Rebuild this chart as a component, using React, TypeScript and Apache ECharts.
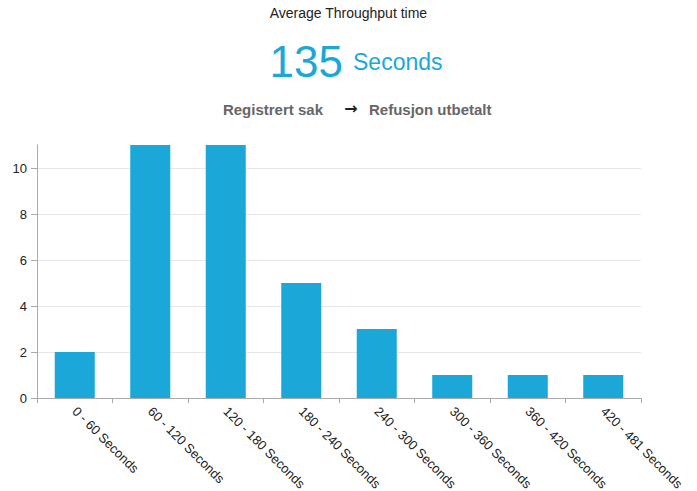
import React, { useEffect, useRef } from "react";
import * as echarts from "echarts";

const categories = [
  "0 - 60 Seconds",
  "60 - 120 Seconds",
  "120 - 180 Seconds",
  "180 - 240 Seconds",
  "240 - 300 Seconds",
  "300 - 360 Seconds",
  "360 - 420 Seconds",
  "420 - 481 Seconds",
];
const counts = [2, 11, 11, 5, 3, 1, 1, 1];
const titleText = "Average Throughput time";
const averageValue = "135";
const averageUnit = "Seconds";
const fromStep = "Registrert sak";
const toStep = "Refusjon utbetalt";

const FONT = "'Liberation Sans', Arial, Helvetica, sans-serif";
const BLUE = "#1ba8d8";

export default function App() {
  const ref = useRef<HTMLDivElement>(null);
  useEffect(() => {
    if (!ref.current) return;
    const chart = echarts.init(ref.current, null, { renderer: "svg" });
    chart.setOption({
      animation: false,
      textStyle: { fontFamily: FONT },
      graphic: [
        {
          type: "text",
          left: "center",
          top: 6,
          style: { text: titleText, font: `14px ${FONT}`, fill: "#222" },
        },
        {
          type: "text",
          x: 343,
          y: 61,
          style: {
            text: averageValue,
            font: `44px ${FONT}`,
            fill: BLUE,
            align: "right",
            verticalAlign: "middle",
          },
        },
        {
          type: "text",
          x: 353,
          y: 62,
          style: {
            text: averageUnit,
            font: `23px ${FONT}`,
            fill: BLUE,
            align: "left",
            verticalAlign: "middle",
          },
        },
        {
          type: "text",
          x: 323,
          y: 109,
          style: {
            text: fromStep,
            font: `bold 15px ${FONT}`,
            fill: "#666",
            align: "right",
            verticalAlign: "middle",
          },
        },
        {
          type: "text",
          x: 351,
          y: 108,
          style: {
            text: "→",
            font: `bold 16px 'DejaVu Sans', ${FONT}`,
            fill: "#222",
            align: "center",
            verticalAlign: "middle",
          },
        },
        {
          type: "text",
          x: 369,
          y: 109,
          style: {
            text: toStep,
            font: `bold 15px ${FONT}`,
            fill: "#666",
            align: "left",
            verticalAlign: "middle",
          },
        },
      ],
      grid: {
        left: 37,
        right: 56,
        top: 145,
        bottom: 93,
        outerBoundsMode: "none",
      },
      xAxis: {
        type: "category",
        data: categories,
        axisLine: { show: true, lineStyle: { color: "#aaa", width: 1 } },
        axisTick: { show: true, length: 5, lineStyle: { color: "#aaa" } },
        axisLabel: {
          rotate: -45,
          color: "#222",
          fontSize: 13,
          fontFamily: FONT,
          margin: 11,
          interval: 0,
        },
        splitLine: { show: false },
      },
      yAxis: {
        type: "value",
        min: 0,
        max: 11,
        interval: 2,
        axisLine: { show: true, lineStyle: { color: "#aaa", width: 1 } },
        axisTick: { show: true, length: 6, lineStyle: { color: "#aaa" } },
        axisLabel: {
          color: "#222",
          fontSize: 13,
          fontFamily: FONT,
          margin: 10,
          showMaxLabel: false,
        },
        splitLine: {
          show: true,
          showMaxLine: false,
          lineStyle: { color: "#e6e6e6", width: 1 },
        },
      },
      series: [
        {
          type: "bar",
          data: counts,
          barWidth: "53%",
          itemStyle: { color: BLUE },
        },
      ],
    });
    return () => chart.dispose();
  }, []);
  return (
    <div
      ref={ref}
      style={{ position: "fixed", left: 0, top: 0, width: 697, height: 491, background: "#fff" }}
    />
  );
}
